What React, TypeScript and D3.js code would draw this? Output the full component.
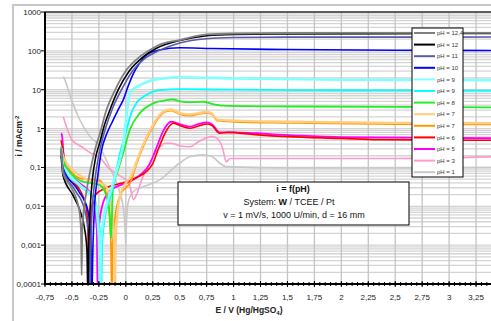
import * as d3 from "d3";

// polarisation curves, [E in V, i in mA/cm²]
const ph124 = [[-0.6,0.3],[-0.59,0.12],[-0.583,0.072],[-0.52,0.035],[-0.47,0.019],[-0.44,0.01],[-0.426,0.006],[-0.415,0.002],[-0.41,0.00017],[-0.405,0.002],[-0.39,0.008],[-0.37,0.02],[-0.34,0.06],[-0.31,0.15],[-0.287,0.28],[-0.24,0.76],[-0.18,3],[-0.1,9.8],[0.006,32],[0.13,71],[0.25,116],[0.31,142],[0.5,190],[0.75,265],[1,280],[1.5,288],[2.5,290],[3.5,292]];
const ph12 = [[-0.6,0.2],[-0.59,0.09],[-0.583,0.063],[-0.49,0.019],[-0.426,0.0078],[-0.389,0.0033],[-0.361,0.00078],[-0.352,0.00005],[-0.345,0.001],[-0.33,0.01],[-0.31,0.05],[-0.28,0.18],[-0.24,0.45],[-0.2,1.2],[-0.148,3],[-0.07,10],[0.03,30],[0.16,70],[0.28,115],[0.5,185],[0.75,245],[1,265],[1.5,272],[2.5,278],[3.5,280]];
const ph11 = [[-0.6,0.25],[-0.59,0.12],[-0.583,0.086],[-0.472,0.026],[-0.38,0.0078],[-0.343,0.0014],[-0.333,0.00005],[-0.325,0.001],[-0.31,0.01],[-0.29,0.04],[-0.26,0.15],[-0.22,0.5],[-0.18,1.2],[-0.12,3.5],[-0.04,10],[0.06,30],[0.18,65],[0.3,100],[0.5,160],[0.75,205],[1,220],[1.5,225],[2.5,225],[3.5,228]];
const ph10 = [[-0.6,0.3],[-0.59,0.13],[-0.583,0.097],[-0.444,0.026],[-0.352,0.0078],[-0.324,0.0014],[-0.315,0.00005],[-0.305,0.001],[-0.29,0.01],[-0.26,0.06],[-0.225,0.28],[-0.18,0.7],[-0.12,1.6],[-0.06,3.5],[-0.025,5.4],[0.02,12],[0.07,26],[0.12,45],[0.19,78],[0.31,105],[0.5,120],[0.8,115],[1.5,108],[2.5,104],[3.5,102]];
const ph9a = [[-0.6,0.3],[-0.59,0.15],[-0.583,0.11],[-0.426,0.035],[-0.287,0.014],[-0.25,0.0014],[-0.24,0.00005],[-0.232,0.001],[-0.2,0.006],[-0.15,0.02],[-0.1,0.06],[-0.05,0.18],[-0.028,0.34],[0,1.5],[0.037,8.2],[0.08,11],[0.13,13],[0.2,16],[0.31,19],[0.5,21],[1,19.5],[2,18],[3.5,17.5]];
const ph9b = [[-0.6,0.28],[-0.59,0.14],[-0.583,0.1],[-0.426,0.033],[-0.287,0.014],[-0.235,0.0014],[-0.228,0.00005],[-0.22,0.001],[-0.19,0.006],[-0.15,0.015],[-0.12,0.03],[-0.06,0.2],[0.006,0.91],[0.05,2.5],[0.1,4.6],[0.19,7.3],[0.31,9.8],[0.5,10.3],[1,10],[2,9.7],[3.5,9.5]];
const ph8 = [[-0.6,0.35],[-0.59,0.2],[-0.583,0.15],[-0.426,0.046],[-0.241,0.035],[-0.167,0.014],[-0.145,0.004],[-0.138,0.0015],[-0.13,0.004],[-0.12,0.028],[-0.07,0.09],[-0.025,0.23],[0.037,0.92],[0.13,2.5],[0.25,4.4],[0.38,5.4],[0.43,5.6],[0.55,4.8],[0.65,4.8],[0.72,4.9],[0.8,4.3],[0.9,3.9],[1.5,3.7],[2.5,3.6],[3.5,3.5]];
const ph7a = [[-0.6,0.3],[-0.59,0.22],[-0.583,0.18],[-0.38,0.052],[-0.194,0.035],[-0.13,0.0078],[-0.108,0.001],[-0.102,0.00005],[-0.095,0.001],[-0.08,0.006],[-0.05,0.02],[0,0.04],[0.05,0.06],[0.1,0.14],[0.16,0.38],[0.22,0.85],[0.31,2.2],[0.38,3.0],[0.42,3.1],[0.5,2.5],[0.59,2.3],[0.67,2.5],[0.75,2.7],[0.8,2.4],[0.85,1.7],[1,1.6],[1.5,1.5],[2.5,1.4],[3.5,1.38]];
const ph7b = [[-0.6,0.32],[-0.59,0.24],[-0.583,0.21],[-0.426,0.052],[-0.241,0.046],[-0.167,0.014],[-0.138,0.001],[-0.13,0.00005],[-0.122,0.001],[-0.1,0.005],[-0.05,0.02],[0,0.03],[0.04,0.04],[0.1,0.125],[0.16,0.34],[0.22,0.76],[0.31,2.0],[0.38,2.8],[0.42,2.9],[0.5,2.35],[0.59,2.15],[0.67,2.35],[0.75,2.55],[0.8,2.3],[0.85,1.6],[1,1.5],[1.5,1.4],[2.5,1.3],[3.5,1.28]];
const ph6 = [[-0.6,0.5],[-0.59,0.35],[-0.583,0.28],[-0.556,0.063],[-0.426,0.026],[-0.37,0.0104],[-0.352,0.0025],[-0.345,0.00005],[-0.338,0.001],[-0.32,0.008],[-0.28,0.02],[-0.18,0.03],[0.006,0.043],[0.1,0.055],[0.19,0.078],[0.25,0.126],[0.31,0.34],[0.38,0.92],[0.44,1.37],[0.5,1.2],[0.59,1.02],[0.67,1.15],[0.75,1.31],[0.8,1.2],[0.87,0.76],[0.95,0.8],[1.2,0.7],[1.5,0.62],[2,0.56],[2.35,0.52],[3.5,0.5]];
const ph5 = [[-0.6,0.75],[-0.593,0.68],[-0.565,0.086],[-0.426,0.039],[-0.315,0.019],[-0.269,0.0025],[-0.262,0.00005],[-0.255,0.002],[-0.22,0.01],[-0.15,0.025],[-0.05,0.035],[0.05,0.045],[0.15,0.07],[0.22,0.12],[0.28,0.3],[0.35,0.9],[0.42,1.5],[0.5,1.3],[0.59,1.12],[0.67,1.3],[0.75,1.45],[0.8,1.3],[0.87,0.8],[1,0.8],[1.5,0.68],[2,0.6],[3.5,0.56]];
const ph3 = [[-0.58,2.0],[-0.55,1.1],[-0.5,0.51],[-0.41,0.34],[-0.32,0.23],[-0.25,0.19],[-0.15,0.09],[-0.05,0.06],[0.03,0.04],[0.07,0.015],[0.1,0.02],[0.15,0.05],[0.2,0.1],[0.28,0.25],[0.32,0.34],[0.36,0.42],[0.42,0.42],[0.5,0.36],[0.59,0.34],[0.67,0.45],[0.75,0.58],[0.8,0.62],[0.85,0.55],[0.9,0.3],[0.93,0.14],[0.97,0.17],[1.5,0.17],[2.5,0.17],[3.5,0.19]];
const ph1 = [[-0.58,21.6],[-0.565,17.8],[-0.503,5.4],[-0.426,1.66],[-0.333,0.62],[-0.24,0.34],[-0.2,0.2],[-0.15,0.1],[-0.1,0.05],[-0.05,0.02],[-0.02,0.008],[-0.005,0.002],[0,0.001],[0.005,0.003],[0.02,0.012],[0.07,0.024],[0.2,0.035],[0.315,0.048],[0.5,0.13],[0.6,0.19],[0.71,0.21],[0.8,0.19],[0.87,0.13],[0.93,0.105],[1.5,0.097],[2.5,0.097],[3.5,0.1]];

const seriesData = [ph124, ph12, ph11, ph10, ph9a, ph9b, ph8, ph7a, ph7b, ph6, ph5, ph3, ph1];
const seriesLabels = ["pH = 12,4", "pH = 12", "pH = 11", "pH = 10", "pH = 9", "pH = 9", "pH = 8", "pH = 7", "pH = 7", "pH = 6", "pH = 5", "pH = 3", "pH = 1"];
const seriesColors = ["#808080", "#000000", "#5a5aaa", "#0000ff", "#80ffff", "#00ffff", "#22ee22", "#ffcc80", "#ff9900", "#ff0000", "#ff00ff", "#ff99cc", "#c8c8c8"];
// noisy records look thicker in the original
const seriesWidths = [1.8, 1.6, 1.6, 1.6, 2.6, 1.8, 1.8, 2.4, 1.8, 1.6, 1.8, 1.6, 1.6];

const xTicks = [-0.75, -0.5, -0.25, 0, 0.25, 0.5, 0.75, 1, 1.25, 1.5, 1.75, 2, 2.25, 2.5, 2.75, 3, 3.25, 3.5];
const yTicks = [0.0001, 0.001, 0.01, 0.1, 1, 10, 100, 1000];

const W = 491;
const H = 321;
const plot = { left: 45, top: 12, right: 503, bottom: 284 };
const font = "'Liberation Sans', Arial, sans-serif";

const fmt = (v: number) => String(v).replace(".", ",");

export default function App() {
  const x = d3.scaleLinear().domain([-0.75, 3.5]).range([plot.left, plot.right]);
  const y = d3.scaleLog().domain([0.0001, 1000]).range([plot.bottom, plot.top]);

  const line = d3
    .line<number[]>()
    .x(d => x(d[0]))
    .y(d => y(d[1]))
    .curve(d3.curveMonotoneX);

  // log grid: 1..9 of every decade
  const hGrid: number[] = [];
  for (let e = -4; e < 3; e++) for (let k = 1; k <= 9; k++) hGrid.push(k * Math.pow(10, e));
  hGrid.push(1000);

  const minorX = d3.range(-0.75, 3.5001, 0.05);

  const legX = 412;
  const legY = 28;
  const rowH = 11.6;

  return (
    <svg width={W} height={H} style={{ position: "absolute", left: 0, top: 0, background: "#fff" }} fontFamily={font}>
      <defs>
        <clipPath id="plotClip">
          <rect x={plot.left} y={plot.top} width={plot.right - plot.left} height={plot.bottom - plot.top} />
        </clipPath>
      </defs>
      <rect x={0} y={0} width={W} height={H} fill="#fff" />
      {/* outer chart frame */}
      <path d={`M13,${H} V5 H${W}`} fill="none" stroke="#c8c8c8" strokeWidth={2} />

      {/* grid */}
      {hGrid.map((v, i) => (
        <line key={"h" + i} x1={plot.left} x2={plot.right} y1={y(v)} y2={y(v)} stroke="#d4d4d4" strokeWidth={1.3} />
      ))}
      {xTicks.slice(1).map((v, i) => (
        <line key={"v" + i} x1={x(v)} x2={x(v)} y1={plot.top} y2={plot.bottom} stroke="#c4c4c4" strokeWidth={1.3} />
      ))}
      <line x1={plot.left} x2={plot.right} y1={plot.top} y2={plot.top} stroke="#333" strokeWidth={1.5} />

      {/* curves */}
      <g clipPath="url(#plotClip)">
        {seriesData
          .map((d, i) => ({ d, i }))
          .reverse()
          .map(({ d, i }) => (
            <path key={"s" + i} d={line(d) || ""} fill="none" stroke={seriesColors[i]} strokeWidth={seriesWidths[i]} strokeLinejoin="round" />
          ))}
      </g>

      {/* axes */}
      <line x1={plot.left} x2={plot.left} y1={plot.top} y2={plot.bottom + 1} stroke="#000" strokeWidth={2} />
      <line x1={plot.left - 1} x2={plot.right} y1={plot.bottom} y2={plot.bottom} stroke="#000" strokeWidth={2} />
      {minorX.map((v, i) => (
        <line key={"mx" + i} x1={x(v)} x2={x(v)} y1={plot.bottom - 2} y2={plot.bottom + 2} stroke="#000" strokeWidth={1} />
      ))}
      {xTicks.map((v, i) => (
        <g key={"xt" + i}>
          <line x1={x(v)} x2={x(v)} y1={plot.bottom - 3} y2={plot.bottom + 3} stroke="#000" strokeWidth={1} />
          {x(v) < W - 10 && (
            <text x={x(v)} y={300} textAnchor="middle" fontSize={8} fill="#222">{fmt(v)}</text>
          )}
        </g>
      ))}
      {yTicks.map((v, i) => (
        <g key={"yt" + i}>
          <line x1={plot.left - 4} x2={plot.left} y1={y(v)} y2={y(v)} stroke="#000" strokeWidth={1} />
          <text x={41} y={y(v) + 3} textAnchor="end" fontSize={8} fill="#222">{fmt(v)}</text>
        </g>
      ))}

      {/* axis titles */}
      <text x={249} y={313} textAnchor="middle" fontSize={8.5} fontWeight="bold" fill="#222">
        E / V (Hg/HgSO<tspan fontSize={6} dy={2}>4</tspan><tspan dy={-2}>)</tspan>
      </text>
      <text transform="translate(22,136) rotate(-90)" textAnchor="middle" fontSize={8.5} fontWeight="bold" fill="#222">
        i / mAcm<tspan fontSize={6} dy={-3}>-2</tspan>
      </text>

      {/* info box */}
      <rect x={178} y={182} width={231} height={43} fill="#fff" stroke="#000" strokeWidth={1} />
      <text x={293} y={192} textAnchor="middle" fontSize={9} fontWeight="bold" fill="#111">i = f(pH)</text>
      <text x={289} y={205} textAnchor="middle" fontSize={9} fill="#111">
        System: <tspan fontWeight="bold">W</tspan> / TCEE  / Pt
      </text>
      <text x={294} y={218} textAnchor="middle" fontSize={9} fill="#111">v = 1 mV/s, 1000 U/min, d = 16 mm</text>

      {/* legend */}
      <rect x={legX} y={legY} width={51} height={149} fill="#fff" stroke="#000" strokeWidth={1} />
      {seriesLabels.map((lab, i) => {
        const yy = legY + 5 + i * rowH;
        return (
          <g key={"l" + i}>
            <line x1={legX + 2} x2={legX + 23} y1={yy} y2={yy} stroke={seriesColors[i]} strokeWidth={2} />
            <text x={legX + 25} y={yy + 2.2} fontSize={6} fill="#333">{lab}</text>
          </g>
        );
      })}
    </svg>
  );
}
